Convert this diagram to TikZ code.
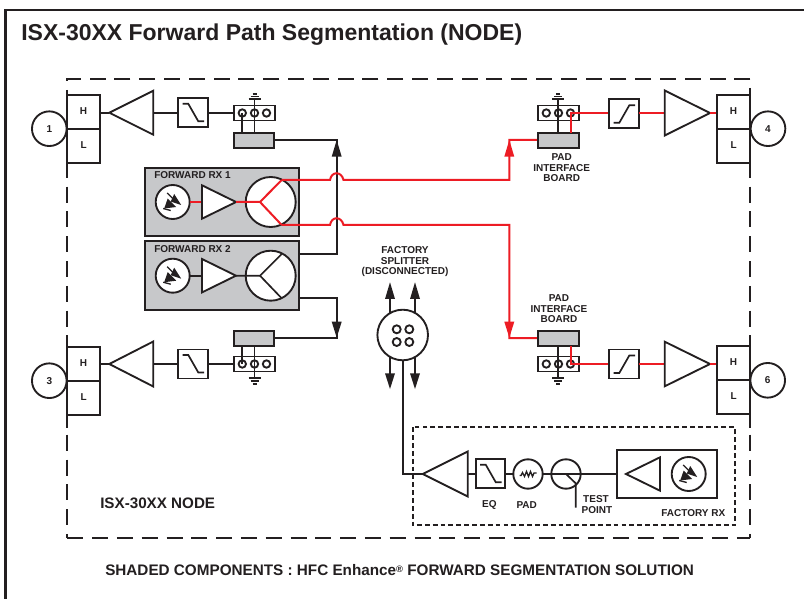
\documentclass[tikz,border=0pt]{standalone}
\usepackage{fontspec}
\setmainfont{Liberation Sans}
\usetikzlibrary{arrows.meta}
\definecolor{ink}{HTML}{231F20}
\definecolor{shade}{HTML}{C7C8CA}
\definecolor{sig}{HTML}{ED1C24}
\tikzset{
  px/.style={x=0.75pt,y=-0.75pt},
  wire/.style={draw=ink,line width=1.25pt},
  redw/.style={draw=sig,line width=1.5pt},
  part/.style={draw=ink,line width=1.4pt},
  graybox/.style={part,fill=shade},
  lab/.style={text=ink,font=\bfseries\fontsize{7.5}{7.5}\selectfont,inner sep=0pt,align=center},
  portc/.style={draw=ink,line width=1.4pt,circle,fill=white,minimum size=26pt,inner sep=0pt,lab},
  blackhead/.style={fill=ink,draw=none},
  redhead/.style={fill=sig,draw=none},
  bigdash/.style={draw=ink,line width=1.3pt,dash pattern=on 12pt off 6.6pt},
}
% triangle: apex x, y, base x, half height
\newcommand{\amp}[5][white]{\path[part,fill=#1] (#2,#3) -- (#4,#3-#5) -- (#4,#3+#5) -- cycle;}
\newcommand{\lowf}[2]{%
  \draw[part] (#1-14.7,#2-14.5) rectangle (#1+14.7,#2+14.5);
  \draw[wire] (#1-10.5,#2-9) -- (#1-4.7,#2-9) -- (#1+5.3,#2+8.5) -- (#1+11,#2+8.5);}
\newcommand{\highf}[2]{%
  \draw[part] (#1-14.7,#2-14.5) rectangle (#1+14.7,#2+14.5);
  \draw[wire] (#1-10.5,#2+9) -- (#1-4.7,#2+9) -- (#1+5.3,#2-8.5) -- (#1+11,#2-8.5);}
\newcommand{\strip}[2]{%
  \draw[part,fill=white] (#1,#2-7.5) rectangle (#1+41,#2+7.5);
  \foreach \k in {8.6,20.8,32.8} \draw[part,fill=white] (#1+\k,#2) circle (3.7);}
\newcommand{\gnd}[3]{%
  \draw[wire] (#1-6,#2) -- (#1+6,#2);
  \draw[wire] (#1-4,#2+#3*2.7) -- (#1+4,#2+#3*2.7);
  \draw[wire] (#1-2,#2+#3*5.4) -- (#1+2,#2+#3*5.4);}
\newcommand{\hl}[2]{%
  \draw[part] (#1,#2) rectangle (#1+32.4,#2+34);
  \draw[part] (#1,#2+34) rectangle (#1+32.4,#2+68);
  \node[lab] at (#1+16.3,#2+16) {H};
  \node[lab] at (#1+16.3,#2+50) {L};}
\newcommand{\pdiode}[2]{%
  \draw[part,fill=white] (#1,#2) circle (17);
  \begin{scope}[shift={(#1,#2)}]
    \fill[ink] (-8.5,6.5) -- (-5,-3.5) -- (3.5,5) -- cycle;
    \fill[ink] (-2,-0.5) -- (1.5,-8) -- (8.5,3) -- cycle;
    \draw[ink,line width=1pt] (-5.5,-9) -- (0,-3.5);
    \draw[ink,line width=1pt] (-9.5,6.5) -- (-2,8.5);
  \end{scope}}
\newcommand{\ahead}[4]{\path[#4] (#1,#2) -- (#1-5,#3) -- (#1+5,#3) -- cycle;}
\begin{document}
\begin{tikzpicture}[px]
\useasboundingbox (0,0) rectangle (804,599);
\fill[white] (0,0) rectangle (804,599);
\draw[draw=ink,line width=1.9pt] (5.5,599) -- (5.5,10) -- (804,10);
\node[anchor=west,text=ink,inner sep=0pt,font=\bfseries\fontsize{17.25}{17}\selectfont] (title) at (21,35) {ISX-30XX Forward Path Segmentation (NODE)};
% node dashed outline
\draw[bigdash] (750.3,79) -- (67.3,79);
\draw[bigdash] (67.3,538) -- (750.3,538);
\draw[bigdash] (67.3,186.7) -- (67.3,538);
\draw[bigdash] (750.3,186.7) -- (750.3,538);
\draw[draw=ink,line width=1.3pt] (67.3,78.5) -- (67.3,81);
\draw[draw=ink,line width=1.3pt] (67.3,90) -- (67.3,178);
\draw[draw=ink,line width=1.3pt] (67.3,337) -- (67.3,428);
\draw[draw=ink,line width=1.3pt] (750,88) -- (750,178);
\draw[draw=ink,line width=1.3pt] (750,337) -- (750,428);
% port 1
\hl{67.3}{94.7}
\node[portc] (p1) at (49.3,128.7) {1};
\draw[wire] (100,112.7) -- (109.3,112.7);
\amp{109.3}{112.7}{153.3}{22}
\draw[wire] (153.3,112.7) -- (178.3,112.7);
\lowf{193}{112.8}
\draw[wire] (207.7,112.8) -- (242.3,112.8);
\strip{233.7}{113}
\draw[wire] (254.5,99.3) -- (254.5,132.7);
\draw[wire] (242.3,113) -- (242.3,132.7);
\gnd{254.5}{99.3}{-1}
\draw[graybox] (233.7,132.7) rectangle (274,147.7);
\draw[wire] (274,140) -- (336.7,140) -- (336.7,254) -- (281.7,254);
\ahead{336.7}{140}{156.7}{blackhead}
% port 3
\hl{67.3}{346.7}
\node[portc] (p3) at (49.3,380.7) {3};
\draw[wire] (100,364) -- (109.3,364);
\amp{109.3}{364}{153.3}{22.5}
\draw[wire] (153.3,364) -- (178.3,364);
\lowf{193}{364}
\draw[wire] (207.7,364) -- (242.3,364);
\strip{233.7}{364}
\draw[wire] (254.5,345.7) -- (254.5,378.3);
\draw[wire] (242.3,345.7) -- (242.3,364);
\gnd{254.5}{378.3}{1}
\draw[graybox] (233.7,331) rectangle (274,345.7);
\draw[wire] (274,338) -- (336.7,338) -- (336.7,298.3) -- (281.7,298.3);
\ahead{336.7}{337.6}{321.7}{blackhead}
% Forward RX 1
\draw[graybox] (144.7,167.7) rectangle (299.3,236.3);
\node[lab,anchor=west] at (154,175.3) {FORWARD RX 1};
\draw[part,fill=white] (270.7,202) circle (25);
\pdiode{172.7}{202}
\draw[redw] (189.7,202) -- (202,202);
\amp{236}{202}{202}{16.7}
\draw[redw] (236,202) -- (260,202) -- (281.7,180);
\draw[redw] (260,202) -- (281.7,225);
% Forward RX 2
\draw[graybox] (144.7,241) rectangle (299.3,310);
\node[lab,anchor=west] at (154,249.3) {FORWARD RX 2};
\draw[part,fill=white] (270.7,275.7) circle (25);
\pdiode{172.7}{275.7}
\draw[wire] (189.7,275.7) -- (202,275.7);
\amp{236}{275.7}{202}{16.7}
\draw[wire] (236,275.7) -- (260,275.7) -- (281.7,254);
\draw[wire] (260,275.7) -- (281.7,298.3);
% red paths
\draw[redw] (281.7,180) -- (330,180) .. controls (331.5,171) and (341.5,171) .. (343.5,180) -- (509.3,180) -- (509.3,140) -- (537.7,140);
\ahead{509.3}{140}{156.7}{redhead}
\draw[redw] (281.7,225) -- (330,225) .. controls (331.5,216) and (341.5,216) .. (343.5,225) -- (509.3,225) -- (509.3,338) -- (537.7,338);
\ahead{509.3}{337.6}{321.7}{redhead}
% port 4
\strip{537.7}{113}
\draw[wire] (558.3,99.3) -- (558.3,132.7);
\gnd{558.3}{99.3}{-1}
\draw[graybox] (537.7,132.7) rectangle (578.7,147.7);
\draw[redw] (571,132.7) -- (571,113) -- (609.3,113);
\node[lab] at (561.7,157.3) {PAD};
\node[lab] at (561.7,167.7) {INTERFACE};
\node[lab] at (561.7,178.3) {BOARD};
\highf{624}{113.8}
\draw[redw] (638.7,113) -- (664.7,113);
\amp{710}{113}{664.7}{22.5}
\draw[redw] (710,113) -- (717.3,113);
\hl{717.3}{94.7}
\node[portc] (p4) at (768,128.7) {4};
% port 6
\strip{537.7}{364}
\draw[wire] (558.3,346) -- (558.3,378.3);
\gnd{558.3}{378.3}{1}
\draw[graybox] (537.7,331) rectangle (578.7,346);
\draw[redw] (571,346) -- (571,364) -- (609.3,364);
\node[lab] at (559,298.3) {PAD};
\node[lab] at (559,308.7) {INTERFACE};
\node[lab] at (559,319) {BOARD};
\highf{624}{364}
\draw[redw] (638.7,364) -- (664.7,364);
\amp{710}{364}{664.7}{22.3}
\draw[redw] (710,364) -- (717.3,364);
\hl{717.3}{346.3}
\node[portc] (p6) at (767.7,380.3) {6};
% factory splitter
\node[lab] at (405,250.3) {FACTORY};
\node[lab] at (405,261) {SPLITTER};
\node[lab] at (405,271.5) {(DISCONNECTED)};
\foreach \xx in {390,415} {
  \draw[wire] (\xx,297) -- (\xx,375);
  \ahead{\xx}{282.3}{299}{blackhead}
  \ahead{\xx}{389}{373.3}{blackhead}
}
\draw[wire] (402.7,340) -- (402.7,474) -- (422.7,474);
\draw[part,fill=white] (402.7,335) circle (25.3);
\foreach \xx in {396.7,409.3} \foreach \yy in {329.3,342} \draw[part] (\xx,\yy) circle (4);
% factory rx chain
\draw[draw=ink,line width=1.25pt,dash pattern=on 3.6pt off 2.3pt] (412.7,427.3) rectangle (735,525.3);
\amp{422.7}{474}{467.7}{22.5}
\draw[wire] (467.7,474) -- (476,474);
\lowf{490.5}{473.8}
\draw[wire] (505,474) -- (513.3,474);
\draw[part,fill=white] (528,474) circle (14.7);
\draw[wire,line width=1pt] (519.5,475.5) -- (521,475.5) -- (522.5,472.5) -- (524.5,476.5) -- (526.5,471.5) -- (528.5,476.5) -- (530.5,471.5) -- (532.5,476.5) -- (534,473) -- (536.5,473);
\draw[wire] (542.7,474) -- (616.7,474);
\draw[part] (566,474) circle (14.7);
\draw[wire] (566,474) -- (575.7,483.3) -- (575.7,507.7);
\draw[part] (616.7,450) rectangle (716.7,498.3);
\amp{626}{474}{660}{16.7}
\pdiode{688.7}{474}
\node[lab] at (489.3,505) {EQ};
\node[lab] at (526.7,505) {PAD};
\node[lab] at (596,499.3) {TEST};
\node[lab] at (597,510) {POINT};
\node[lab] at (693.3,513.3) {FACTORY RX};
% captions
\node[anchor=west,text=ink,inner sep=0pt,font=\bfseries\fontsize{11.4}{11}\selectfont] (cap1) at (100,503) {ISX-30XX NODE};
\node[anchor=west,text=ink,inner sep=0pt,font=\bfseries\fontsize{11.45}{11}\selectfont] (cap2) at (105,570) {SHADED COMPONENTS : HFC Enhance\raisebox{2.5pt}{\fontsize{7}{7}\selectfont ®} FORWARD SEGMENTATION SOLUTION};
\end{tikzpicture}
\end{document}
